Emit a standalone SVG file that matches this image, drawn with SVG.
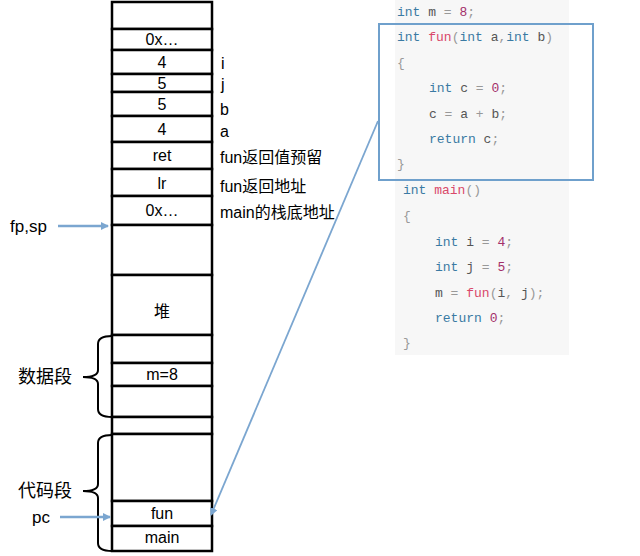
<svg xmlns="http://www.w3.org/2000/svg" width="640" height="556" viewBox="0 0 640 556">
<style>
.cell{fill:#fff;stroke:#000;stroke-width:2.5}
.t{font-family:"Liberation Sans","Noto Sans CJK SC",sans-serif;font-size:16px;fill:#000}
.c{text-anchor:middle}
.big{font-size:18px}
.code{font-family:"Liberation Mono","DejaVu Sans Mono",monospace;font-size:13px;fill:#555}
.kw{fill:#3a7aa3}.fn{fill:#d9486a}.num{fill:#a3306a}.p{fill:#999}
.brace{fill:none;stroke:#000;stroke-width:2}
.conn{stroke:#7ba6d0;stroke-width:2.5;fill:none}
</style>
<defs>
<marker id="ah" markerWidth="8" markerHeight="8" refX="7" refY="4" orient="auto" markerUnits="userSpaceOnUse">
<path d="M0,0 L8,4 L0,8 Z" fill="#7ba6d0"/>
</marker>
</defs>
<rect width="640" height="556" fill="#fff"/>
<g id="code">
<rect x="395" y="0" width="174" height="355" fill="#f7f7f7"/>
<text class="code" x="397" y="16"><tspan class="kw">int</tspan> m <tspan class="p">=</tspan> <tspan class="num">8</tspan><tspan class="p">;</tspan></text>
<text class="code" x="397" y="41"><tspan class="kw">int</tspan> <tspan class="fn">fun</tspan><tspan class="p">(</tspan><tspan class="kw">int</tspan> a<tspan class="p">,</tspan><tspan class="kw">int</tspan> b<tspan class="p">)</tspan></text>
<text class="code p" x="397" y="67">{</text>
<text class="code" x="429" y="92"><tspan class="kw">int</tspan> c <tspan class="p">=</tspan> <tspan class="num">0</tspan><tspan class="p">;</tspan></text>
<text class="code" x="429" y="118">c <tspan class="p">=</tspan> a <tspan class="p">+</tspan> b<tspan class="p">;</tspan></text>
<text class="code" x="429" y="143"><tspan class="kw">return</tspan> c<tspan class="p">;</tspan></text>
<text class="code p" x="397" y="168">}</text>
<text class="code" x="403" y="194"><tspan class="kw">int</tspan> <tspan class="fn">main</tspan><tspan class="p">()</tspan></text>
<text class="code p" x="403" y="220">{</text>
<text class="code" x="435" y="246"><tspan class="kw">int</tspan> i <tspan class="p">=</tspan> <tspan class="num">4</tspan><tspan class="p">;</tspan></text>
<text class="code" x="435" y="271"><tspan class="kw">int</tspan> j <tspan class="p">=</tspan> <tspan class="num">5</tspan><tspan class="p">;</tspan></text>
<text class="code" x="435" y="297">m <tspan class="p">=</tspan> <tspan class="fn">fun</tspan><tspan class="p">(</tspan>i<tspan class="p">,</tspan> j<tspan class="p">);</tspan></text>
<text class="code" x="435" y="322"><tspan class="kw">return</tspan> <tspan class="num">0</tspan><tspan class="p">;</tspan></text>
<text class="code p" x="403" y="347">}</text>
</g>
<g id="funbox"><rect x="379" y="24" width="214" height="156" fill="none" stroke="#6fa0cc" stroke-width="2"/></g>
<g id="memory">
<rect class="cell" x="112" y="2" width="100" height="27"/>
<rect class="cell" x="112" y="29" width="100" height="21"/>
<rect class="cell" x="112" y="50" width="100" height="24"/>
<rect class="cell" x="112" y="74" width="100" height="18"/>
<rect class="cell" x="112" y="92" width="100" height="24"/>
<rect class="cell" x="112" y="116" width="100" height="26"/>
<rect class="cell" x="112" y="142" width="100" height="27"/>
<rect class="cell" x="112" y="169" width="100" height="27"/>
<rect class="cell" x="112" y="196" width="100" height="29"/>
<rect class="cell" x="112" y="225" width="100" height="50"/>
<rect class="cell" x="112" y="275" width="100" height="60"/>
<rect class="cell" x="112" y="335" width="100" height="28"/>
<rect class="cell" x="112" y="363" width="100" height="23"/>
<rect class="cell" x="112" y="386" width="100" height="31"/>
<rect class="cell" x="112" y="417" width="100" height="17"/>
<rect class="cell" x="112" y="434" width="100" height="67"/>
<rect class="cell" x="112" y="501" width="100" height="25"/>
<rect class="cell" x="112" y="526" width="100" height="25"/>
<text class="t c" x="162" y="45">0x…</text>
<text class="t c" x="162" y="68">4</text>
<text class="t c" x="162" y="89">5</text>
<text class="t c" x="162" y="110">5</text>
<text class="t c" x="162" y="135">4</text>
<text class="t c" x="162" y="161">ret</text>
<text class="t c" x="162" y="189">lr</text>
<text class="t c" x="162" y="216">0x…</text>
<text class="t c" x="162" y="317">堆</text>
<text class="t c" x="162" y="380">m=8</text>
<text class="t c" x="162" y="519">fun</text>
<text class="t c" x="162" y="543">main</text>
</g>
<g id="labels">
<text class="t" x="221" y="69">i</text>
<text class="t" x="221" y="90">j</text>
<text class="t" x="220" y="115">b</text>
<text class="t" x="220" y="137">a</text>
<text class="t" x="220" y="163">fun返回值预留</text>
<text class="t" x="220" y="192">fun返回地址</text>
<text class="t" x="220" y="218">main的栈底地址</text>
<text class="t" x="10" y="232" style="font-size:17px">fp,sp</text>
<text class="t big" x="18" y="383">数据段</text>
<text class="t big" x="18" y="497">代码段</text>
<text class="t" x="32" y="523" style="font-size:17px">pc</text>
</g>
<g id="braces">
<path class="brace" d="M112,336 Q98,336 98,344 L98,370 Q98,377 83,377 Q98,377 98,384 L98,409 Q98,417 112,417"/>
<path class="brace" d="M112,435 Q98,435 98,443 L98,484 Q98,491 83,491 Q98,491 98,498 L98,543 Q98,551 112,551"/>
</g>
<g id="connectors">
<line class="conn" x1="58" y1="226" x2="108" y2="226" marker-end="url(#ah)"/>
<line class="conn" x1="60" y1="517" x2="110" y2="517" marker-end="url(#ah)"/>
<line class="conn" x1="378" y1="121" x2="211" y2="515" marker-end="url(#ah)" style="stroke-width:1.8"/>
</g>
</svg>
